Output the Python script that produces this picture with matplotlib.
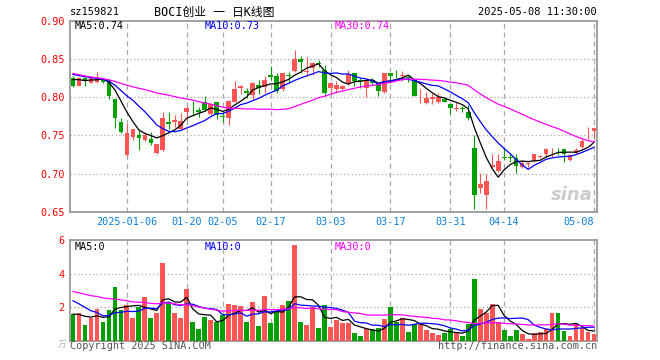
import matplotlib
matplotlib.use("Agg")
import matplotlib.pyplot as plt
import numpy as np
import pandas as pd

# BOCI ChiNext ETF (sz159821) daily K-line, 2024-12-23 .. 2025-05-08

plt.rcParams['font.family'] = ['DejaVu Sans Mono', 'Noto Sans CJK SC']

RED = '#ff5555'
GREEN = '#00a000'

opens = [0.825, 0.815, 0.825, 0.819, 0.820, 0.823, 0.822, 0.798, 0.768, 0.724,
         0.748, 0.750, 0.744, 0.745, 0.727, 0.731, 0.768, 0.768, 0.758, 0.781,
         0.789, 0.783, 0.794, 0.778, 0.793, 0.7755, 0.772, 0.794, 0.812, 0.808,
         0.803, 0.816, 0.813, 0.829, 0.827, 0.811, 0.829, 0.834, 0.850, 0.833,
         0.838, 0.845, 0.836, 0.812, 0.811, 0.810, 0.818, 0.831, 0.8225, 0.812,
         0.822, 0.818, 0.807, 0.831, 0.832, 0.828, 0.826, 0.822, 0.801, 0.792,
         0.798, 0.793, 0.797, 0.791, 0.785, 0.786, 0.780, 0.734, 0.681, 0.672,
         0.708, 0.703, 0.721, 0.721, 0.720, 0.709, 0.712, 0.716, 0.721, 0.725,
         0.729, 0.730, 0.732, 0.718, 0.727, 0.735, 0.746, 0.755]
closes = [0.814, 0.825, 0.822, 0.826, 0.826, 0.820, 0.802, 0.773, 0.754, 0.753,
          0.758, 0.747, 0.750, 0.740, 0.738, 0.773, 0.765, 0.770, 0.769, 0.786,
          0.788, 0.781, 0.783, 0.791, 0.777, 0.7745, 0.795, 0.811, 0.815, 0.806,
          0.819, 0.812, 0.823, 0.826, 0.808, 0.831, 0.828, 0.850, 0.846, 0.834,
          0.845, 0.843, 0.805, 0.819, 0.816, 0.815, 0.830, 0.821, 0.8215, 0.822,
          0.818, 0.808, 0.831, 0.827, 0.831, 0.829, 0.825, 0.802, 0.802, 0.799,
          0.800, 0.800, 0.794, 0.786, 0.786, 0.785, 0.773, 0.672, 0.686, 0.690,
          0.711, 0.717, 0.720, 0.720, 0.710, 0.714, 0.714, 0.725, 0.723, 0.732,
          0.729, 0.729, 0.726, 0.724, 0.731, 0.743, 0.747, 0.759]
highs = [0.828, 0.826, 0.826, 0.828, 0.833, 0.825, 0.823, 0.798, 0.772, 0.765,
         0.758, 0.757, 0.754, 0.754, 0.739, 0.781, 0.780, 0.777, 0.779, 0.789,
         0.795, 0.787, 0.802, 0.792, 0.794, 0.780, 0.796, 0.821, 0.816, 0.812,
         0.820, 0.822, 0.828, 0.841, 0.832, 0.831, 0.833, 0.862, 0.854, 0.852,
         0.846, 0.848, 0.842, 0.820, 0.821, 0.816, 0.835, 0.831, 0.825, 0.822,
         0.825, 0.819, 0.832, 0.831, 0.835, 0.834, 0.828, 0.823, 0.811, 0.807,
         0.805, 0.805, 0.797, 0.792, 0.793, 0.789, 0.790, 0.750, 0.701, 0.700,
         0.726, 0.726, 0.732, 0.725, 0.726, 0.718, 0.715, 0.726, 0.724, 0.734,
         0.733, 0.733, 0.732, 0.726, 0.733, 0.746, 0.761, 0.759]
lows = [0.813, 0.815, 0.815, 0.819, 0.819, 0.818, 0.797, 0.760, 0.753, 0.723,
        0.744, 0.731, 0.743, 0.737, 0.726, 0.730, 0.758, 0.761, 0.758, 0.770,
        0.777, 0.774, 0.782, 0.777, 0.771, 0.767, 0.763, 0.793, 0.804, 0.799,
        0.796, 0.804, 0.805, 0.822, 0.806, 0.808, 0.820, 0.833, 0.832, 0.828,
        0.829, 0.840, 0.802, 0.806, 0.805, 0.809, 0.816, 0.815, 0.812, 0.800,
        0.816, 0.802, 0.805, 0.819, 0.825, 0.821, 0.820, 0.801, 0.792, 0.791,
        0.791, 0.792, 0.793, 0.778, 0.782, 0.781, 0.770, 0.654, 0.674, 0.654,
        0.707, 0.702, 0.718, 0.715, 0.701, 0.707, 0.708, 0.715, 0.720, 0.722,
        0.722, 0.724, 0.715, 0.716, 0.726, 0.734, 0.745, 0.746]

# volume, in 万
volumes = [1.58, 1.64, 0.94, 1.34, 1.90, 1.14, 1.84, 3.18, 1.84, 2.14,
           1.38, 1.98, 2.58, 1.38, 1.68, 4.60, 2.22, 1.64, 1.38, 3.10,
           1.14, 0.70, 1.42, 1.24, 1.14, 1.52, 2.20, 2.10, 2.04, 1.14,
           2.32, 0.90, 2.64, 1.08, 1.78, 2.10, 2.38, 5.70, 1.14, 0.96,
           1.98, 0.78, 2.10, 0.84, 1.24, 1.08, 1.08, 0.44, 0.28, 0.70,
           0.70, 0.74, 1.30, 2.02, 1.14, 1.34, 0.52, 0.98, 0.98, 0.64,
           0.48, 0.34, 0.48, 0.70, 0.44, 0.28, 1.00, 3.70, 1.90, 1.64,
           2.20, 1.10, 0.64, 0.28, 0.64, 0.40, 0.10, 0.44, 0.50, 0.70,
           1.66, 1.66, 0.58, 0.28, 0.98, 0.74, 0.50, 0.40]

# earlier sessions (off the left edge), only used to seed the moving averages
pre_close = [0.875, 0.872, 0.868, 0.860, 0.852, 0.845, 0.838, 0.830, 0.825, 0.822,
             0.805, 0.800, 0.805, 0.810, 0.812, 0.815, 0.820, 0.822, 0.828, 0.832,
             0.840, 0.836, 0.838, 0.835, 0.832, 0.826, 0.828, 0.822, 0.825]
pre_vol = [3.8, 3.5, 4.0, 3.2, 3.6, 3.4, 3.9, 3.3, 3.5, 3.6,
           2.6, 2.9, 3.1, 2.4, 2.8, 3.0, 2.7, 3.2, 2.9, 2.6,
           3.5, 3.0, 3.4, 2.9, 3.1, 1.7, 1.5, 1.6, 1.52]

tick_idx = [9, 19, 25, 33, 43, 53, 63, 72, 87]
tick_labels = ['2025-01-06', '01-20', '02-05', '02-17', '03-03',
               '03-17', '03-31', '04-14', '05-08']

n = len(closes)
x = np.arange(n)
o = np.array(opens)
c = np.array(closes)
h = np.array(highs)
l = np.array(lows)
v = np.array(volumes)

up = c >= o
colors = np.where(up, RED, GREEN)

all_close = pd.Series(pre_close + closes)
all_vol = pd.Series(pre_vol + volumes)
ma = {}
vma = {}
for w in [5, 10, 30]:
    ma[w] = all_close.rolling(w).mean().values[-n:]
    vma[w] = all_vol.rolling(w).mean().values[-n:]
ma_colors = {5: 'black', 10: '#0000ff', 30: '#ff00ff'}

W, H = 660, 360
fig = plt.figure(figsize=(6.6, 3.6), dpi=100)
ax = fig.add_axes([70 / W, 1 - 211.7 / H, 527 / W, 191 / H])
axv = fig.add_axes([70 / W, 1 - 340.7 / H, 527 / W, 100.7 / H])

grid_col = '#a8a8a8'

# candles
ax.vlines(x, l, h, color=colors, lw=0.8, zorder=3)
body = np.maximum(np.abs(c - o), 0.001)
ax.bar(x, body, bottom=np.minimum(o, c), width=0.78, color=colors, linewidth=0, zorder=3)
for w in [5, 10, 30]:
    ax.plot(x, ma[w], color=ma_colors[w], lw=0.9, zorder=4)

ax.set_xlim(-0.5, n - 0.5)
ax.set_ylim(0.65, 0.90)
for y in [0.70, 0.75, 0.80, 0.85]:
    ax.axhline(y, color=grid_col, lw=0.9, ls=(0, (1, 2)), zorder=1)
for t in tick_idx:
    ax.axvline(t, color=grid_col, lw=0.9, ls=(0, (4, 3)), zorder=1)

ax.set_yticks([0.65, 0.70, 0.75, 0.80, 0.85, 0.90])
ax.set_yticklabels(['%.2f' % y for y in [0.65, 0.70, 0.75, 0.80, 0.85, 0.90]],
                   color='red', fontsize=7.3)
ax.set_xticks(tick_idx)
xl = ax.set_xticklabels(tick_labels, color='#0a80e0', fontsize=7.3)
xl[-1].set_horizontalalignment('right')
ax.tick_params(length=0, pad=4)
ax.tick_params(axis='x', pad=4)

# volume
axv.bar(x, v, width=0.8, color=colors, linewidth=0, zorder=3)
for w in [5, 10, 30]:
    axv.plot(x, vma[w], color=ma_colors[w], lw=0.9, zorder=4)
axv.set_xlim(-0.5, n - 0.5)
axv.set_ylim(0, 6)
for y in [2, 4]:
    axv.axhline(y, color=grid_col, lw=0.9, ls=(0, (1, 2)), zorder=1)
for t in tick_idx:
    axv.axvline(t, color=grid_col, lw=0.9, ls=(0, (4, 3)), zorder=1)
axv.set_yticks([2, 4, 6])
axv.set_yticklabels(['2', '4', '6'], color='red', fontsize=7.3)
axv.set_xticks([])
axv.tick_params(length=0, pad=4)

for a in [ax, axv]:
    for s in a.spines.values():
        s.set_color('#9a9a9a')
        s.set_linewidth(1.3)

# texts
def ftext(px, py, s, **kw):
    fig.text(px / W, 1 - py / H, s, va='center', **kw)

ftext(70, 12, 'sz159821', fontsize=7.5, color='black')
ftext(214, 12, 'BOCI创业 一 日K线图', fontsize=8.5, color='black', ha='center')
ftext(597, 12, '2025-05-08 11:30:00', fontsize=7.5, color='black', ha='right')

ftext(75, 26, 'MA5:%.2f' % ma[5][-1], fontsize=7.3, color='black')
ftext(205, 26, 'MA10:%.2f' % ma[10][-1], fontsize=7.3, color='#0000ff')
ftext(335, 26, 'MA30:%.2f' % ma[30][-1], fontsize=7.3, color='#ff00ff')

ftext(75, 247, 'MA5:0', fontsize=7.3, color='black')
ftext(205, 247, 'MA10:0', fontsize=7.3, color='#0000ff')
ftext(335, 247, 'MA30:0', fontsize=7.3, color='#ff00ff')

ftext(66, 344, '万', fontsize=6, color='#b0b0b0', ha='right')
ftext(70, 346, 'Copyright 2025 SINA.COM', fontsize=7.3, color='#555555')
ftext(597, 346, 'http://finance.sina.com.cn', fontsize=7.3, color='#555555', ha='right')

ftext(593, 195, 'sina', fontsize=13, color='#cccccc', ha='right',
      style='italic', weight='bold', family='DejaVu Sans')

fig.savefig('out.png', dpi=100)
